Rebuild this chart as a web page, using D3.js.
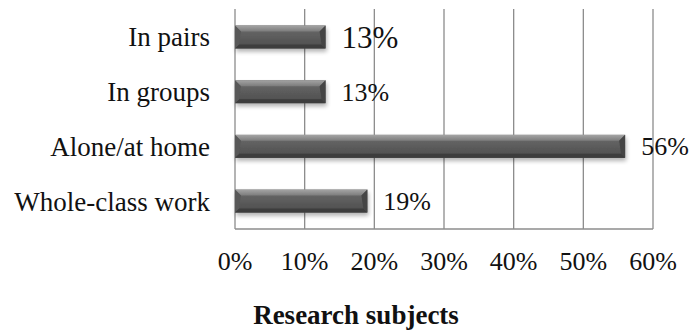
<!DOCTYPE html>
<html>
<head>
<meta charset="utf-8">
<script src="https://cdn.jsdelivr.net/npm/d3@7"></script>
<style>
  body { margin: 0; background: #fff; }
</style>
</head>
<body>
<div id="chart"></div>
<script>
// Categories, top to bottom
const categories = ['In pairs', 'In groups', 'Alone/at home', 'Whole-class work'];
// Share of research subjects (percent)
const values = [13, 13, 56, 19];
// Tick values for the x axis
const ticks = [0, 10, 20, 30, 40, 50, 60];

const width = 691;
const height = 333;
const serif = "'Liberation Serif', 'DejaVu Serif', serif";

// Plot area
const plotLeft = 235, plotRight = 653, plotTop = 9, plotBottom = 229;

const xScale = d3.scaleLinear().domain([0, 60]).range([plotLeft, plotRight]);
const yScale = d3.scaleBand().domain(categories).range([plotTop, plotBottom]).paddingInner(0.58).paddingOuter(0.3);

const svg = d3.select('#chart').append('svg')
    .attr('width', width)
    .attr('height', height)
    .attr('font-family', serif);

const defs = svg.append('defs');

// Bar face gradient
const grad = defs.append('linearGradient')
    .attr('id', 'barGrad')
    .attr('x1', 0).attr('y1', 0).attr('x2', 0).attr('y2', 1);
grad.append('stop').attr('offset', '0%').attr('stop-color', '#6c6c6c');
grad.append('stop').attr('offset', '100%').attr('stop-color', '#4c4c4c');

// Top bevel gradient
const topGrad = defs.append('linearGradient')
    .attr('id', 'topGrad')
    .attr('x1', 0).attr('y1', 0).attr('x2', 0).attr('y2', 1);
topGrad.append('stop').attr('offset', '0%').attr('stop-color', '#a4a4a4');
topGrad.append('stop').attr('offset', '100%').attr('stop-color', '#7c7c7c');

// Soft shadow under the bars
const shadow = defs.append('filter').attr('id', 'shadow')
    .attr('x', '-5%').attr('y', '-30%').attr('width', '115%').attr('height', '180%');
shadow.append('feGaussianBlur').attr('in', 'SourceAlpha').attr('stdDeviation', 2);
shadow.append('feOffset').attr('dx', 1).attr('dy', 3).attr('result', 'blur');
shadow.append('feComponentTransfer').append('feFuncA').attr('type', 'linear').attr('slope', 0.3);
const merge = shadow.append('feMerge');
merge.append('feMergeNode');
merge.append('feMergeNode').attr('in', 'SourceGraphic');

// Vertical gridlines
svg.append('g')
    .selectAll('line')
    .data(ticks)
    .enter().append('line')
    .attr('x1', d => xScale(d)).attr('x2', d => xScale(d))
    .attr('y1', plotTop).attr('y2', plotBottom)
    .attr('stroke', '#8c8c8c')
    .attr('stroke-width', 1.3);

// Bottom axis line
svg.append('line')
    .attr('x1', plotLeft).attr('x2', plotRight)
    .attr('y1', plotBottom).attr('y2', plotBottom)
    .attr('stroke', '#8c8c8c')
    .attr('stroke-width', 1.3);

// Bars
const bars = svg.append('g')
    .selectAll('g')
    .data(categories)
    .enter().append('g')
    .attr('filter', 'url(#shadow)');

const bev = 6;

bars.append('rect')
    .attr('x', xScale(0))
    .attr('y', d => yScale(d))
    .attr('width', (d, i) => xScale(values[i]) - xScale(0))
    .attr('height', yScale.bandwidth())
    .attr('fill', 'url(#barGrad)');

// Bevel: top facet
bars.append('path')
    .attr('d', (d, i) => {
        const x0 = xScale(0), x1 = xScale(values[i]), y = yScale(d);
        return `M${x0},${y} L${x1},${y} L${x1 - bev},${y + bev} L${x0 + bev},${y + bev} Z`;
    })
    .attr('fill', 'url(#topGrad)');

// Bevel: bottom facet
bars.append('path')
    .attr('d', (d, i) => {
        const x0 = xScale(0), x1 = xScale(values[i]), y = yScale(d) + yScale.bandwidth();
        return `M${x0},${y} L${x1},${y} L${x1 - 4},${y - 4} L${x0 + 4},${y - 4} Z`;
    })
    .attr('fill', '#3c3c3c');

// Bevel: right end facet
bars.append('path')
    .attr('d', (d, i) => {
        const x = xScale(values[i]), y = yScale(d), h = yScale.bandwidth();
        return `M${x - bev},${y + bev} L${x},${y} L${x},${y + h} L${x - 4},${y + h - 4} Z`;
    })
    .attr('fill', '#444');

// Bevel: left end facet
bars.append('path')
    .attr('d', d => {
        const x = xScale(0), y = yScale(d), h = yScale.bandwidth();
        return `M${x},${y} L${x + bev},${y + bev} L${x + 4},${y + h - 4} L${x},${y + h} Z`;
    })
    .attr('fill', '#585858');

// Value labels
svg.append('g')
    .selectAll('text')
    .data(categories)
    .enter().append('text')
    .attr('x', (d, i) => xScale(values[i]) + 16)
    .attr('y', d => yScale(d) + yScale.bandwidth() / 2)
    .attr('dy', '0.35em')
    .attr('fill', '#111')
    .style('font-size', (d, i) => i === 0 ? '31px' : '26px')
    .text((d, i) => values[i] + '%');

// Category labels
svg.append('g')
    .selectAll('text')
    .data(categories)
    .enter().append('text')
    .attr('x', 210)
    .attr('y', d => yScale(d) + yScale.bandwidth() / 2)
    .attr('dy', '0.35em')
    .attr('fill', '#111')
    .style('text-anchor', 'end')
    .style('font-size', '27px')
    .text(d => d);

// Tick labels
svg.append('g')
    .selectAll('text')
    .data(ticks)
    .enter().append('text')
    .attr('x', d => xScale(d))
    .attr('y', 270)
    .attr('fill', '#111')
    .style('text-anchor', 'middle')
    .style('font-size', '26px')
    .text(d => d + '%');

// Axis title
svg.append('text')
    .attr('x', 356)
    .attr('y', 324)
    .attr('fill', '#111')
    .style('text-anchor', 'middle')
    .style('font-size', '27px')
    .style('font-weight', 'bold')
    .text('Research subjects');
</script>
</body>
</html>
